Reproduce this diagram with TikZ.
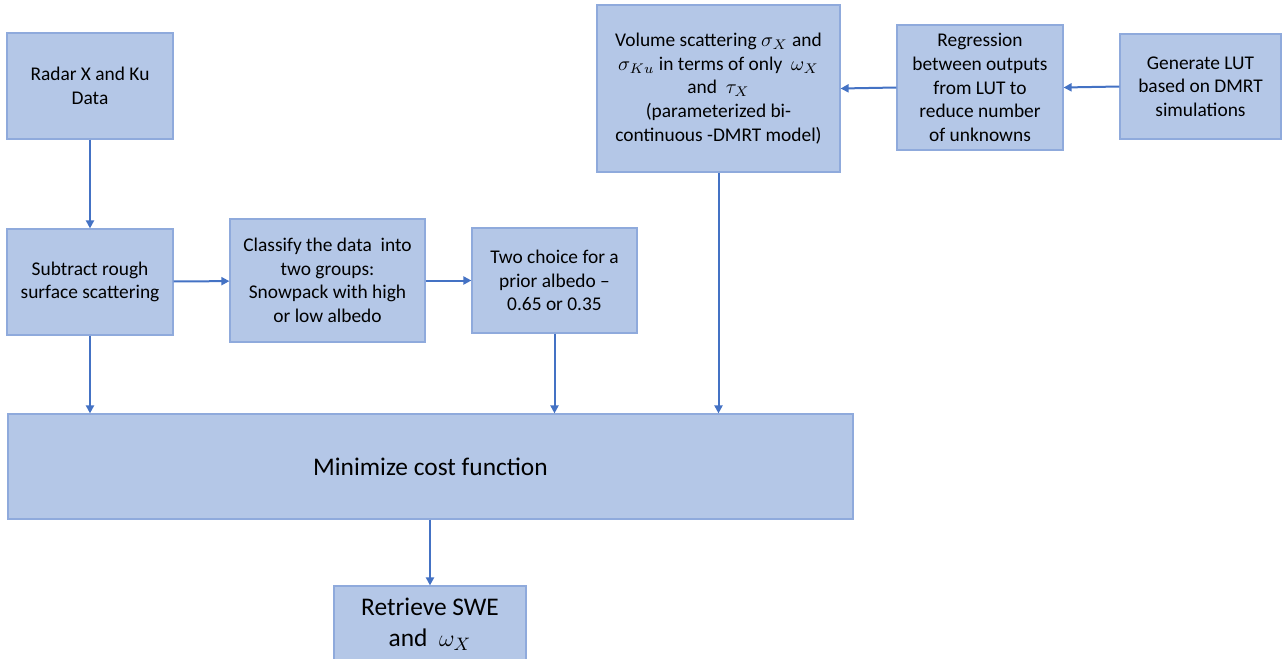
\documentclass[tikz,border=0pt]{standalone}
\usepackage{fontspec}
\setmainfont{Carlito}
\usetikzlibrary{arrows.meta}
\definecolor{boxfill}{HTML}{B4C7E7}
\definecolor{boxline}{HTML}{8FAADC}
\definecolor{flowline}{HTML}{4472C4}
\begin{document}
\begin{tikzpicture}[x=0.5pt,y=-0.5pt,
  stepbox/.style={draw=boxline,fill=boxfill,line width=0.6pt,align=center,
    inner sep=0pt,font=\fontsize{9.7}{11.8}\selectfont},
  bigbox/.style={stepbox,font=\fontsize{12.7}{15.5}\selectfont},
  flow/.style={draw=flowline,line width=1pt,-{Triangle[length=4pt,width=4pt]}}]
\clip (0,0) rectangle (1282,659);
\node[stepbox,minimum width=83pt,minimum height=53pt] (radar) at (90,86) {Radar X and Ku\\Data};
\node[stepbox,minimum width=83pt,minimum height=53pt] (subtract) at (90,282) {Subtract rough\\surface scattering};
\node[stepbox,minimum width=97.5pt,minimum height=61.5pt] (classify) at (327.5,280.5) {Classify the data\ \ into\\two groups:\\Snowpack with high\\or low albedo};
\node[stepbox,minimum width=82.5pt,minimum height=52.5pt] (prior) at (554.5,280.5) {Two choice for a\\prior albedo --\\0.65 or 0.35};
\node[stepbox,minimum width=121.5pt,minimum height=83.5pt] (volume) at (718.5,88.5) {Volume scattering $\sigma_X$ and\\$\sigma_{Ku}$ in terms of only\ \ $\omega_X$\\and\ \ $\tau_X$\\(parameterized bi-\\continuous -DMRT model)};
\node[stepbox,minimum width=83pt,minimum height=62.5pt] (regression) at (980,87.5) {Regression\\between outputs\\from LUT to\\reduce number\\of unknowns};
\node[stepbox,minimum width=80.5pt,minimum height=52.5pt] (lut) at (1200.5,86.5) {Generate LUT\\based on DMRT\\simulations};
\node[bigbox,minimum width=422.5pt,minimum height=52.5pt] (cost) at (430.5,466.5) {Minimize cost function};
\node[bigbox,minimum width=96pt,minimum height=38pt] (swe) at (430,624) {Retrieve SWE\\and\ \ $\omega_X$};
% arrows
\draw[flow] (radar) -- (subtract);
\draw[flow] (subtract) -- (classify);
\draw[flow] (classify) -- (prior);
\draw[flow] (subtract.south) -- (subtract.south |- cost.north);
\draw[flow] (prior.south) -- (prior.south |- cost.north);
\draw[flow] (volume.south) -- (volume.south |- cost.north);
\draw[flow] (regression.west) -- (volume.east);
\draw[flow] (lut.west) -- (regression.east);
\draw[flow] (cost.south -| swe.north) -- (swe.north);
\end{tikzpicture}
\end{document}
